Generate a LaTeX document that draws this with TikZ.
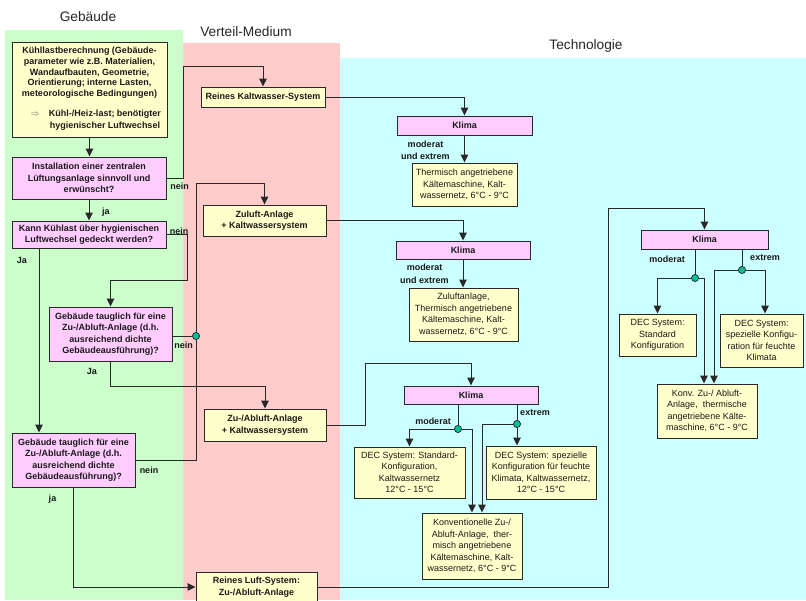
\documentclass[tikz,border=0pt]{standalone}
\usepackage{fontspec}
\setmainfont{Liberation Sans}
\usetikzlibrary{arrows.meta}
\definecolor{bggreen}{RGB}{204,255,204}
\definecolor{bgpink}{RGB}{255,204,204}
\definecolor{bgcyan}{RGB}{204,255,255}
\definecolor{boxyellow}{RGB}{255,255,204}
\definecolor{boxpink}{RGB}{255,204,255}
\definecolor{dotgreen}{RGB}{0,190,150}
\definecolor{linegray}{RGB}{40,40,40}
\begin{document}
\begin{tikzpicture}[x=1pt,y=1pt,
  base/.style={draw=linegray, line width=1pt, inner sep=1pt, align=center, text=black!90},
  ybox/.style={base, fill=boxyellow, font=\fontsize{9}{11.5}\selectfont\bfseries},
  pbox/.style={base, fill=boxpink, font=\fontsize{9}{11.5}\selectfont\bfseries},
  tbox/.style={base, fill=boxyellow, font=\fontsize{9}{11.5}\selectfont},
  klima/.style={base, fill=boxpink, font=\fontsize{9}{11}\selectfont\bfseries},
  lab/.style={inner sep=0pt, align=center, text=black!90, font=\fontsize{9}{12.5}\selectfont\bfseries},
  title/.style={inner sep=0pt, text=black!85, font=\fontsize{13.7}{16}\selectfont},
  dot/.style={circle, draw=linegray, line width=0.6pt, fill=dotgreen, inner sep=0pt, minimum size=7pt},
  conn/.style={draw=linegray, line width=1pt},
  arr/.style={conn, -{Triangle[length=8pt,width=7.5pt]}}
]
\clip (0,0) rectangle (806,-600);
\fill[white] (0,0) rectangle (806,-600);
% background columns
\fill[bggreen] (5,-30) rectangle (183,-600);
\fill[bgpink] (183,-43) rectangle (340,-600);
\fill[bgcyan] (340,-58) rectangle (806,-600);
\node[title] (tg) at (88,-17) {Gebäude};
\node[title] (tv) at (246,-32) {Verteil-Medium};
\node[title] (tt) at (586,-46) {Technologie};

% Gebaeude column
\node[ybox, minimum width=155, minimum height=95, font=\fontsize{9}{10.7}\selectfont\bfseries] (A) at (89.5,-89.5)
 {Kühllastberechnung (Gebäude-\\parameter wie z.B. Materialien,\\Wandaufbauten, Geometrie,\\Orientierung; interne Lasten,\\meteorologische Bedingungen)\\[9pt]\hspace*{31pt}\def\arraystretch{1.1}\begin{tabular}[t]{@{}c@{}}\llap{\textcolor{black!60}{$\Rightarrow$}\hspace{9pt}}Kühl-/Heiz-last; benötigter\\hygienischer Luftwechsel\end{tabular}};
\node[pbox, minimum width=154, minimum height=42] (B) at (89,-178)
 {Installation einer zentralen\\Lüftungsanlage sinnvoll und\\erwünscht?};
\node[pbox, minimum width=154, minimum height=27] (C) at (89,-234.5)
 {Kann Kühlast über hygienischen\\Luftwechsel gedeckt werden?};
\node[pbox, minimum width=123, minimum height=54] (D) at (110.5,-334)
 {Gebäude tauglich für eine\\Zu-/Abluft-Anlage (d.h.\\ausreichend dichte\\Gebäudeausführung)?};
\node[pbox, minimum width=123, minimum height=54] (E) at (73.5,-460)
 {Gebäude tauglich für eine\\Zu-/Abluft-Anlage (d.h.\\ausreichend dichte\\Gebäudeausführung)?};

% Verteil-Medium column
\node[ybox, minimum width=124, minimum height=20] (KW) at (263,-97) {Reines Kaltwasser-System};
\node[ybox, minimum width=123, minimum height=31] (ZU) at (264.5,-220.5) {Zuluft-Anlage\\+ Kaltwassersystem};
\node[ybox, minimum width=122, minimum height=32] (ZA) at (265,-425) {Zu-/Abluft-Anlage\\+ Kaltwassersystem};
\node[ybox, minimum width=121, minimum height=30] (RL) at (256.5,-587) {Reines Luft-System:\\Zu-/Abluft-Anlage};

% Technologie column
\node[klima, minimum width=135, minimum height=19] (K1) at (464.5,-125.5) {Klima};
\node[tbox, minimum width=105, minimum height=43] (T1) at (464.5,-184.5)
 {Thermisch angetriebene\\Kältemaschine, Kalt-\\wassernetz, 6°C - 9°C};
\node[klima, minimum width=134, minimum height=18] (K2) at (463,-250) {Klima};
\node[tbox, minimum width=109, minimum height=53] (T2) at (463.5,-314.5)
 {Zuluftanlage,\\Thermisch angetriebene\\Kältemaschine, Kalt-\\wassernetz, 6°C - 9°C};
\node[klima, minimum width=134, minimum height=18] (K3) at (471,-395) {Klima};
\node[tbox, minimum width=111, minimum height=51] (D3L) at (409.5,-472.5)
 {DEC System: Standard-\\Konfiguration,\\Kaltwassernetz\\12°C - 15°C};
\node[tbox, minimum width=110, minimum height=53] (D3R) at (541,-472.5)
 {DEC System: spezielle\\Konfiguration für feuchte\\Klimata, Kaltwassernetz,\\12°C - 15°C};
\node[tbox, minimum width=100, minimum height=66] (KV3) at (472,-546)
 {Konventionelle Zu-/\\Abluft-Anlage,\ \ ther-\\misch angetriebene\\Kältemaschine, Kalt-\\wassernetz, 6°C - 9°C};
\node[klima, minimum width=127, minimum height=19] (K4) at (704.5,-239.5) {Klima};
\node[tbox, minimum width=77, minimum height=42] (DS4) at (657.5,-335)
 {DEC System:\\Standard\\Konfiguration};
\node[tbox, minimum width=83, minimum height=53] (DX4) at (761.5,-340.5)
 {DEC System:\\spezielle Konfigu-\\ration für feuchte\\Klimata};
\node[tbox, minimum width=100, minimum height=54] (KV4) at (707,-411)
 {Konv. Zu-/ Abluft-\\Anlage,\ \ thermische\\angetriebene Kälte-\\maschine, 6°C - 9°C};

% helper coordinates
\coordinate (b1) at (183,-66);
\coordinate (c1) at (187,-280);
\coordinate (jx) at (39,0);
\coordinate (e1) at (196,-183);
\coordinate (z1) at (365,-363);
\coordinate (r1) at (608,-208);
\node[dot] (d1) at (196,-336) {};
\node[dot] (d3m) at (458,-429) {};
\node[dot] (d3x) at (517,-424) {};
\node[dot] (d4m) at (695,-278) {};
\node[dot] (d4x) at (742,-270) {};

% Gebaeude connectors
\draw[arr] (A.south) -- (A.south |- B.north);
\draw[arr] (B.south) -- (B.south |- C.north);
\draw[arr] (B.east) -| (b1) -| (KW.north);
\draw[arr] (C.east) -| (c1) -| (D.north);
\draw[arr] (C.south -| jx) -- (E.north -| jx);
\draw[conn] (d1 -| D.east) -- (d1);
\draw[arr] (E.east) -| (e1) -| (ZU.north);
\draw[arr] (D.south) -- ++(0,-25) -| (ZA.north);
\draw[arr] (E.south) |- (RL.west);

% Verteil connectors
\draw[arr] (KW.east) -| (K1.north);
\draw[arr] (ZU.east) -| (K2.north);
\draw[arr] (ZA.east) -| (z1) -| (K3.north);
\draw[arr] (RL.east) -| (r1) -| (K4.north);

% Technologie connectors
\draw[arr] (K1.south) -- (K1.south |- T1.north);
\draw[arr] (K2.south) -- (K2.south |- T2.north);
\draw[conn] (K3.south -| d3m) -- (d3m);
\draw[arr] (d3m) -| (D3L.north);
\draw[arr] (d3m) -| (KV3.north);
\draw[conn] (K3.south -| d3x) -- (d3x);
\draw[arr] (d3x) -- (d3x |- D3R.north);
\draw[arr] (d3x) -| ([xshift=10pt]KV3.north);
\draw[conn] (K4.south -| d4m) -- (d4m);
\draw[arr] (d4m) -| (DS4.north);
\draw[arr] (d4m) -| ([xshift=-3pt]KV4.north);
\draw[conn] (K4.south -| d4x) -- (d4x);
\draw[arr] (d4x) -| ([xshift=3.5pt]DX4.north);
\draw[arr] (d4x) -| ([xshift=7pt]KV4.north);
% redraw dots on top
\node[dot] at (d1) {};
\node[dot] at (d3m) {};
\node[dot] at (d3x) {};
\node[dot] at (d4m) {};
\node[dot] at (d4x) {};

% labels
\node[lab] (l1) at (106,-212) {ja};
\node[lab] (l2) at (179.5,-186) {nein};
\node[lab] (l3) at (179,-231) {nein};
\node[lab] (l4) at (22,-260) {Ja};
\node[lab] (l5) at (183.5,-345) {nein};
\node[lab] (l6) at (92,-371) {Ja};
\node[lab] (l7) at (149,-470) {nein};
\node[lab] (l8) at (52.5,-499) {ja};
\node[lab] (l9) at (425.5,-150.5) {moderat\\und extrem};
\node[lab] (l10) at (424.5,-274) {moderat\\und extrem};
\node[lab] (l11) at (433,-421) {moderat};
\node[lab] (l12) at (535,-413) {extrem};
\node[lab] (l13) at (667,-259) {moderat};
\node[lab] (l14) at (765,-258) {extrem};
\end{tikzpicture}
\end{document}
